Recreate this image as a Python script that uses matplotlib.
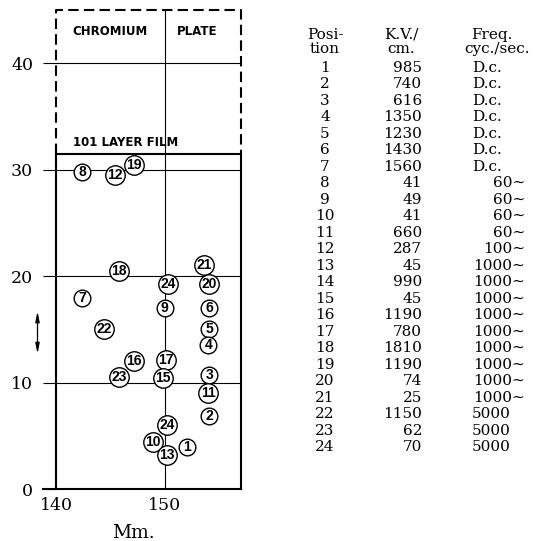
import matplotlib.pyplot as plt

# circled positions on the plate (Mm. across, height)
mark_labels = ['8', '12', '19', '18', '21', '24', '20', '7', '9', '6', '22', '5',
               '4', '17', '16', '23', '15', '3', '11', '2', '24', '10', '13', '1']
mark_x = [142.4, 145.4, 147.2, 145.8, 153.6, 150.3, 154.1, 142.4, 150.0, 154.1, 144.4, 154.1,
          154.0, 150.1, 147.2, 145.8, 149.8, 154.1, 154.0, 154.1, 150.2, 148.9, 150.2, 152.0]
mark_y = [29.8, 29.5, 30.45, 20.5, 21.0, 19.3, 19.3, 17.9, 17.0, 17.0, 15.0, 15.0,
          13.5, 12.1, 12.0, 10.55, 10.4, 10.7, 9.0, 6.9, 6.0, 4.45, 3.2, 3.9]

# table on the right
positions = list(range(1, 25))
kv_per_cm = [985, 740, 616, 1350, 1230, 1430, 1560, 41, 49, 41, 660, 287,
             45, 990, 45, 1190, 780, 1810, 1190, 74, 25, 1150, 62, 70]
freq = ['D.c.'] * 7 + ['60∼'] * 4 + ['100∼'] + ['1000∼'] * 9 + ['5000'] * 3

xticks = [140, 150]
yticks = [0, 10, 20, 30, 40]

W, H = 539, 541
fig = plt.figure(figsize=(W / 100, H / 100), dpi=100)
ax = fig.add_axes([56 / W, 1 - 489 / H, 185 / W, 479 / H])
ax.set_xlim(140, 157)
ax.set_ylim(0, 45)
for s in ax.spines.values():
    s.set_visible(False)

serif = ['DejaVu Serif', 'DejaVu Sans']

ax.set_xticks(xticks)
ax.set_yticks(yticks)
ax.tick_params(axis='x', length=0, pad=6, labelsize=12.5)
ax.tick_params(axis='y', direction='out', length=9.5, width=0.8, pad=7, labelsize=12.5)
for lab in ax.get_xticklabels() + ax.get_yticklabels():
    lab.set_family(serif)

# frame: solid film box, dashed plate box
lw_box = 1.5
ax.plot([140, 140, 157, 157], [0, 31.5, 31.5, 0], color='black', lw=lw_box, clip_on=False)
ax.plot([138.8, 157], [0, 0], color='black', lw=lw_box, clip_on=False)
ax.plot([140, 140, 157, 157], [31.5, 45, 45, 31.5], color='black', lw=lw_box,
        ls=(0, (5, 2.5)), clip_on=False)

# guide lines
for yv in [10, 20, 30, 40]:
    ax.plot([140, 157], [yv, yv], color='black', lw=0.8, zorder=1)
ax.plot([150, 150], [0, 45], color='black', lw=0.8, zorder=1)

# circled numbers
for lab, xv, yv in zip(mark_labels, mark_x, mark_y):
    ms = 12 if len(lab) == 1 else 14
    ax.plot(xv, yv, 'o', ms=ms, mfc='white', mec='black', mew=1.0, zorder=3, clip_on=False)
    ax.text(xv, yv, lab, ha='center', va='center', fontsize=10, fontweight='bold',
            family='Liberation Sans', zorder=4)

ax.text(141.5, 42.95, 'CHROMIUM', fontsize=8.5, fontweight='bold', va='center')
ax.text(151.1, 42.95, 'PLATE', fontsize=8.5, fontweight='bold', va='center')
ax.text(141.55, 32.55, '101 LAYER FILM', fontsize=8.5, fontweight='bold', va='center')

ax.annotate('', xy=(138.3, 16.7), xytext=(138.3, 12.7), annotation_clip=False,
            arrowprops=dict(arrowstyle='<|-|>,head_length=0.6,head_width=0.12',
                            color='black', lw=0.9, shrinkA=0, shrinkB=0))

ax.text((133 - 56) / 185, (489 - 533) / 479, 'Mm.', transform=ax.transAxes,
        ha='center', va='center', fontsize=13.5, family=serif)

# table
def px(x, y):
    return x / W, 1 - y / H

tfs = 11
fig.text(*px(325, 35), 'Posi-', ha='center', va='center', fontsize=tfs, family=serif)
fig.text(*px(325, 49), 'tion', ha='center', va='center', fontsize=tfs, family=serif)
fig.text(*px(401, 35), 'K.V./', ha='center', va='center', fontsize=tfs, family=serif)
fig.text(*px(401, 49), 'cm.', ha='center', va='center', fontsize=tfs, family=serif)
fig.text(*px(492, 35), 'Freq.', ha='center', va='center', fontsize=tfs, family=serif)
fig.text(*px(497, 49), 'cyc./sec.', ha='center', va='center', fontsize=tfs, family=serif)

row0, dy = 68, (447 - 68) / 23
for i, (p, kv, f) in enumerate(zip(positions, kv_per_cm, freq)):
    yy = row0 + i * dy
    fig.text(*px(325, yy), str(p), ha='center', va='center', fontsize=tfs, family=serif)
    fig.text(*px(422, yy), str(kv), ha='right', va='center', fontsize=tfs, family=serif)
    if f.endswith('∼'):
        fig.text(*px(525, yy), f, ha='right', va='center', fontsize=tfs, family=serif)
    else:
        fig.text(*px(472, yy), f, ha='left', va='center', fontsize=tfs, family=serif)

fig.savefig('out.png', dpi=100)
